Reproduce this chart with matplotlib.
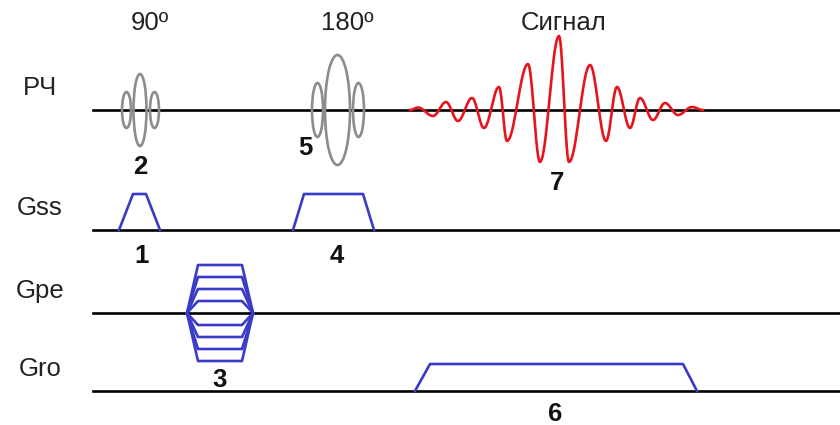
import numpy as np
import matplotlib
matplotlib.use("Agg")
import matplotlib.pyplot as plt
from matplotlib.patches import Ellipse

plt.rcParams['font.family'] = ['Liberation Sans', 'DejaVu Sans']

# --- ДАННЫЕ (координаты в пикселях картинки) ---
ряды = ["РЧ", "Gss", "Gpe", "Gro"]
базовые_y = [110, 230, 313, 391]

# РЧ-импульсы: (центр x, ширина, полувысота) для каждого лепестка
имп_90 = [(126.5, 9, 18), (140, 13, 36), (154.5, 9, 18)]
имп_180 = [(317.5, 11, 27), (337.5, 25, 55), (358.5, 11, 27)]

# экстремумы сигнала (эха)
сигнал_x = [410, 418, 433, 446, 458, 472, 484, 499, 507, 528, 540, 559,
            569, 590, 606, 617, 630, 640, 653, 665, 678, 692, 703]
сигнал_y = [110, 107.5, 116, 102, 121, 98, 128, 87, 141, 64, 162, 36,
            162, 65, 141, 87, 128, 98, 120, 103, 115, 107, 110]

# трапеции градиентов: x (начало, верх-лево, верх-право, конец), высота
gss_1 = ([119, 133, 146, 160], 36)
gss_4 = ([293, 304, 363, 374], 36)
gro_6 = ([415, 430, 683, 697], 27)
gpe_x = [187, 198, 242, 253]
gpe_уровни = [48, 36, 24, 12, -12, -24, -36, -48]

подписи_сверху = [("90º", 150, 23), ("180º", 347, 23), ("Сигнал", 564, 23)]
номера = [("1", 142, 256), ("2", 140, 167), ("3", 220, 380), ("4", 337, 256),
          ("5", 305, 148), ("6", 555, 414), ("7", 557, 183)]

синий = "#3a3ac8"
серый = "#8c8c8c"
красный = "#e8141c"

fig = plt.figure(figsize=(8.4, 4.25), dpi=100)
ax = fig.add_axes([0, 0, 1, 1])
ax.set_xlim(0, 840)
ax.set_ylim(425, 0)
ax.axis("off")

# базовые линии и названия
for имя, y in zip(ряды, базовые_y):
    ax.plot([93, 840], [y, y], color="black", lw=1.9, zorder=1)
    ax.text(40, y - 22, имя, fontsize=18.5, color="#222222",
            ha="center", va="center")

# РЧ-импульсы
for лепестки in (имп_90, имп_180):
    for cx, w, h in лепестки:
        ax.add_patch(Ellipse((cx, базовые_y[0]), w, 2 * h, fill=False,
                             edgecolor=серый, lw=1.9, zorder=2))

# сигнал: плавные полуволны между экстремумами
xs, ys = [], []
t = np.linspace(0, 1, 20)
for i in range(len(сигнал_x) - 1):
    x0, x1 = сигнал_x[i], сигнал_x[i + 1]
    y0, y1 = сигнал_y[i], сигнал_y[i + 1]
    s = (1 - np.cos(np.pi * t)) / 2
    xs.extend(x0 + (x1 - x0) * t)
    ys.extend(y0 + (y1 - y0) * s)
ax.plot(xs, ys, color=красный, lw=1.9, zorder=3)


def трапеция(xk, высота, y0):
    ax.plot(xk, [y0, y0 - высота, y0 - высота, y0], color=синий, lw=1.9, zorder=2)


трапеция(*gss_1, базовые_y[1])
трапеция(*gss_4, базовые_y[1])
трапеция(*gro_6, базовые_y[3])
for ур in gpe_уровни:
    трапеция(gpe_x, ур, базовые_y[2])

for текст, x, y in подписи_сверху:
    ax.text(x, y, текст, fontsize=18.5, color="#222222", ha="center", va="center")

for текст, x, y in номера:
    ax.text(x, y, текст, fontsize=18.5, fontweight="bold", color="#111111",
            ha="center", va="center")

fig.savefig("out.png", dpi=100)
